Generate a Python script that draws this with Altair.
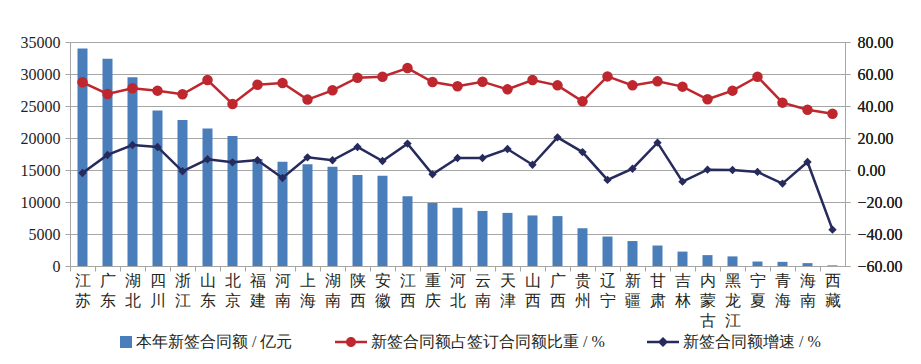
import altair as alt
import pandas as pd

provinces = ["江苏", "广东", "湖北", "四川", "浙江", "山东", "北京", "福建", "河南", "上海",
             "湖南", "陕西", "安徽", "江西", "重庆", "河北", "云南", "天津", "山西", "广西",
             "贵州", "辽宁", "新疆", "甘肃", "吉林", "内蒙古", "黑龙江", "宁夏", "青海", "海南", "西藏"]
amount = [34000, 32400, 29500, 24300, 22800, 21500, 20300, 16700, 16300, 15900,
          15500, 14200, 14100, 10900, 9850, 9100, 8600, 8300, 7900, 7800,
          5900, 4600, 3900, 3200, 2250, 1700, 1500, 700, 650, 450, 100]
share = [54.8, 47.5, 51.1, 49.6, 47.3, 56.2, 41.3, 53.3, 54.4, 44.0,
         49.8, 57.7, 58.3, 63.7, 55.0, 52.3, 55.2, 50.4, 56.2, 52.9,
         42.9, 58.5, 52.9, 55.4, 52.1, 44.2, 49.6, 58.3, 42.1, 37.7, 35.2]
growth = [-1.9, 9.4, 15.6, 14.4, -0.8, 6.7, 4.8, 6.1, -5.0, 7.9,
          6.1, 14.4, 5.6, 16.5, -2.7, 7.5, 7.5, 13.1, 3.3, 20.4,
          11.2, -6.2, 0.8, 17.1, -7.3, 0.2, 0.0, -1.2, -8.5, 5.0, -37.3]
series = ["本年新签合同额 / 亿元", "新签合同额占签订合同额比重 / %", "新签合同额增速 / %"]
colors = ["#4A7EBB", "#BF272E", "#262A5C"]
left_ticks = [0, 5000, 10000, 15000, 20000, 25000, 30000, 35000]
right_ticks = [-60, -40, -20, 0, 20, 40, 60, 80]

df = pd.DataFrame({"province": provinces, "amount": amount, "share": share,
                   "growth": growth, "s": series[0]})

FONT = "Liberation Serif"
GRAY = "#A6A6A6"
TXT = "#231F20"

x_enc = alt.X("province:N", sort=provinces, title=None,
              scale=alt.Scale(paddingInner=0.6, paddingOuter=0.3),
              axis=alt.Axis(labelAngle=0, labelExpr="split(datum.label, '')",
                            labelFontSize=16, labelLineHeight=20,
                            labelBaseline="top", labelColor=TXT, labelPadding=1,
                            tickSize=5, tickColor=GRAY, tickOffset=-12.5, labelOffset=12.5,
                            domainColor=GRAY, labelOverlap=False, labelBound=False))

base = alt.Chart(df)

bars = base.mark_bar(color=colors[0]).encode(
    x=x_enc,
    y=alt.Y("amount:Q", title=None,
            scale=alt.Scale(domain=[0, 35000], nice=False),
            axis=alt.Axis(values=left_ticks, labelFontSize=16,
                          labelColor=TXT, tickSize=5, tickColor=GRAY, labelPadding=5,
                          domainColor=GRAY, gridColor=GRAY, gridWidth=1, format="d"))
)

yr = alt.Y("share:Q", title=None,
           scale=alt.Scale(domain=[-60, 80], nice=False),
           axis=alt.Axis(orient="right", values=right_ticks, format=".2f", grid=False,
                         labelFontSize=16, labelColor=TXT,
                         tickSize=5, tickColor=GRAY, labelPadding=7, domainColor=GRAY))
yg = alt.Y("growth:Q", scale=alt.Scale(domain=[-60, 80], nice=False), axis=None)

red_line = base.mark_line(color=colors[1], strokeWidth=2.5).encode(x=x_enc, y=yr)
red_pts = base.mark_point(color=colors[1], filled=True, opacity=1, size=110,
                          shape="circle").encode(x=x_enc, y=yr)
navy_line = base.mark_line(color=colors[2], strokeWidth=2.5).encode(x=x_enc, y=yg)
navy_pts = base.mark_point(color=colors[2], filled=True, opacity=1, size=70,
                           shape="diamond").encode(x=x_enc, y=yg)

sym_square = "M0.25,-0.375L1,-0.375L1,0.375L0.25,0.375Z"
sym_circle = ("M-1,-0.08L1,-0.08L1,0.08L-1,0.08Z "
              "M0.3125,0A0.3125,0.3125,0,1,1,-0.3125,0A0.3125,0.3125,0,1,1,0.3125,0Z")
sym_diamond = "M-1,-0.08L1,-0.08L1,0.08L-1,0.08Z M0,-0.32L0.32,0L0,0.32L-0.32,0Z"

leg = dict(title=None, orient="none", direction="horizontal",
           legendX=30, legendY=284, padding=0,
           symbolSize=1024, symbolStrokeWidth=0,
           labelFontSize=16, labelColor=TXT,
           labelOffset=4, labelLimit=400, columnPadding=42, symbolOpacity=1)

legend_layer = base.transform_filter("false").mark_point(filled=True, opacity=1, size=1024).encode(
    color=alt.Color("s:N", scale=alt.Scale(domain=series, range=colors),
                    legend=alt.Legend(**leg)),
    shape=alt.Shape("s:N", scale=alt.Scale(domain=series,
                                           range=[sym_square, sym_circle, sym_diamond]),
                    legend=alt.Legend(**leg))
)

chart = alt.layer(bars, red_line, red_pts, navy_line, navy_pts, legend_layer).resolve_scale(
    y="independent"
).properties(
    width=775, height=224,
    autosize=alt.AutoSizeParams(type="none"),
    padding={"left": 62, "top": 34, "right": 68, "bottom": 86},
).configure_view(stroke=None).configure(
    background="white", font=FONT
).configure_axis(labelFont=FONT).configure_legend(labelFont=FONT)

chart.save("out.html", embed_options={"renderer": "svg", "actions": False})
